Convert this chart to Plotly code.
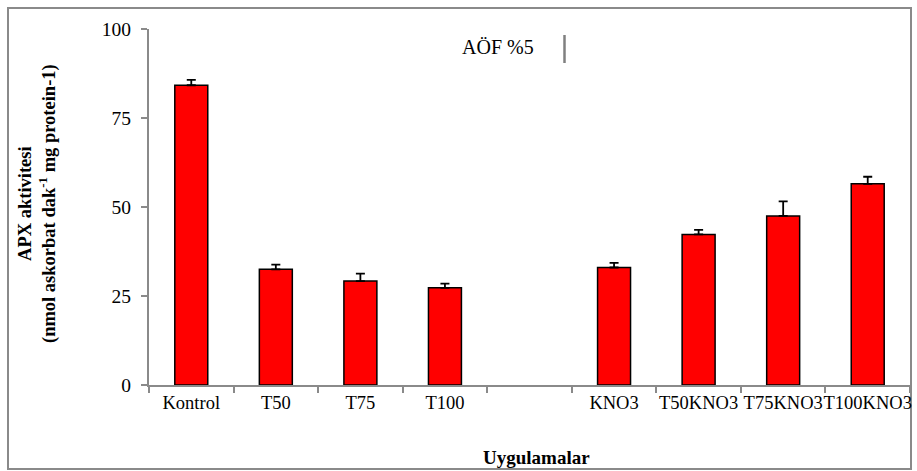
import plotly.graph_objects as go

categories = ["Kontrol", "T50", "T75", "T100", " ", "KNO3", "T50KNO3", "T75KNO3", "T100KNO3"]
values = [84.2, 32.5, 29.2, 27.3, None, 33.0, 42.3, 47.5, 56.5]
errors = [1.5, 1.3, 2.1, 1.2, None, 1.3, 1.3, 4.1, 2.0]
y_ticks = [0, 25, 50, 75, 100]

FONT = "Liberation Serif, Times New Roman, serif"
AXIS = "#8a8a8a"

fig = go.Figure()
fig.add_trace(go.Bar(
    x=categories, y=values, width=0.39,
    marker=dict(color="#FF0000", line=dict(color="black", width=1.5)),
    error_y=dict(type="data", symmetric=False, array=errors,
                 arrayminus=[0 if e is not None else None for e in errors],
                 color="black", thickness=1.8, width=4.5),
))

# plot area geometry (pixels)
W, H = 917, 471
L, R, T, B = 149, 7, 29, 86
pw, ph = W - L - R, H - T - B

def px(x):
    return (x - L) / pw

def py(y):
    return (H - B - y) / ph

shapes = [
    # outer chart border
    dict(type="rect", xref="paper", yref="paper",
         x0=px(8), x1=px(911), y0=py(8), y1=py(469),
         line=dict(color="#8a8a8a", width=2), fillcolor="rgba(0,0,0,0)", layer="below"),
    # AÖF %5 bar
    dict(type="line", xref="paper", yref="paper",
         x0=px(564.5), x1=px(564.5), y0=py(35), y1=py(63),
         line=dict(color="#808080", width=2.5)),
]

annotations = [
    dict(text="AÖF %5", xref="paper", yref="paper", x=px(498), y=py(47),
         showarrow=False, font=dict(family=FONT, size=20, color="black"),
         xanchor="center", yanchor="middle"),
    dict(text="<b>Uygulamalar</b>", xref="paper", yref="paper", x=px(536), y=py(457),
         showarrow=False, font=dict(family=FONT, size=19, color="black"),
         xanchor="center", yanchor="middle"),
    dict(text="<b>APX aktivitesi</b><br><b>(nmol askorbat dak<sup>-1</sup> mg protein-1)</b>",
         xref="paper", yref="paper", x=px(37), y=py(204), textangle=-90,
         showarrow=False, font=dict(family=FONT, size=18.5, color="black"),
         xanchor="center", yanchor="middle"),
]

fig.update_layout(
    width=W, height=H,
    margin=dict(l=L, r=R, t=T, b=B, autoexpand=False),
    paper_bgcolor="white", plot_bgcolor="white",
    showlegend=False,
    bargap=0.61,
    font=dict(family=FONT, size=18, color="black"),
    shapes=shapes, annotations=annotations,
    xaxis=dict(
        type="category", categoryorder="array", categoryarray=categories,
        range=[-0.5, 8.5], showline=True, linecolor=AXIS, linewidth=2,
        ticks="outside", tickson="boundaries", ticklen=6, tickcolor=AXIS, tickwidth=1.5,
        tickangle=0, showgrid=False, zeroline=False,
        tickfont=dict(family=FONT, size=18.5, color="black"),
    ),
    yaxis=dict(
        range=[0, 100], tickvals=y_ticks, ticktext=[str(v) for v in y_ticks],
        showline=True, linecolor=AXIS, linewidth=2,
        ticks="outside", ticklen=6, tickcolor=AXIS, tickwidth=1.5,
        showgrid=False, zeroline=False, ticklabelstandoff=6,
        tickfont=dict(family=FONT, size=19.5, color="black"),
    ),
)

fig.write_html("out.html")
